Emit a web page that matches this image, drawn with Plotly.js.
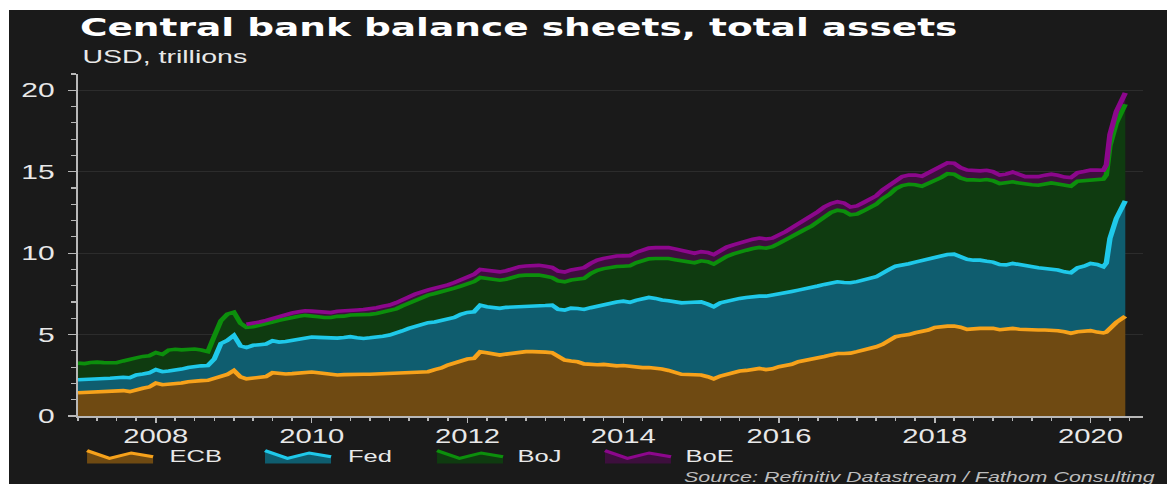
<!DOCTYPE html>
<html><head><meta charset="utf-8">
<script src="https://cdn.plot.ly/plotly-3.0.1.min.js"></script>
<style>
html,body{margin:0;padding:0;background:#ffffff;width:1167px;height:484px;overflow:hidden;}
#wrap{position:absolute;left:9px;top:10px;width:1158px;height:474px;background:#1a1a1a;overflow:hidden;}
#chart{position:absolute;left:0;top:0;width:772px;height:474px;transform:scaleX(1.5);transform-origin:0 0;}
</style></head><body><div id="wrap"><div id="chart"></div></div>
<script>
const dates = [
'2007-01','2007-02','2007-03','2007-04','2007-05','2007-06','2007-07','2007-08','2007-09','2007-10','2007-11','2007-12',
'2008-01','2008-02','2008-03','2008-04','2008-05','2008-06','2008-07','2008-08','2008-09','2008-10','2008-11','2008-12',
'2009-01','2009-02','2009-03','2009-04','2009-05','2009-06','2009-07','2009-08','2009-09','2009-10','2009-11','2009-12',
'2010-01','2010-02','2010-03','2010-04','2010-05','2010-06','2010-07','2010-08','2010-09','2010-10','2010-11','2010-12',
'2011-01','2011-02','2011-03','2011-04','2011-05','2011-06','2011-07','2011-08','2011-09','2011-10','2011-11','2011-12',
'2012-01','2012-02','2012-03','2012-04','2012-05','2012-06','2012-07','2012-08','2012-09','2012-10','2012-11','2012-12',
'2013-01','2013-02','2013-03','2013-04','2013-05','2013-06','2013-07','2013-08','2013-09','2013-10','2013-11','2013-12',
'2014-01','2014-02','2014-03','2014-04','2014-05','2014-06','2014-07','2014-08','2014-09','2014-10','2014-11','2014-12',
'2015-01','2015-02','2015-03','2015-04','2015-05','2015-06','2015-07','2015-08','2015-09','2015-10','2015-11','2015-12',
'2016-01','2016-02','2016-03','2016-04','2016-05','2016-06','2016-07','2016-08','2016-09','2016-10','2016-11','2016-12',
'2017-01','2017-02','2017-03','2017-04','2017-05','2017-06','2017-07','2017-08','2017-09','2017-10','2017-11','2017-12',
'2018-01','2018-02','2018-03','2018-04','2018-05','2018-06','2018-07','2018-08','2018-09','2018-10','2018-11','2018-12',
'2019-01','2019-02','2019-03','2019-04','2019-05','2019-06','2019-07','2019-08','2019-09','2019-10','2019-11','2019-12',
'2020-01-01','2020-02-01','2020-03-01','2020-03-15','2020-04-01','2020-05-01','2020-06-12'];

const ecb = [
1.43,1.45,1.47,1.49,1.51,1.53,1.55,1.56,1.50,1.62,1.70,1.78,
2.02,1.92,1.95,1.98,2.03,2.10,2.15,2.17,2.19,2.30,2.42,2.55,
2.80,2.40,2.28,2.33,2.38,2.42,2.66,2.60,2.58,2.60,2.63,2.66,
2.70,2.65,2.60,2.56,2.52,2.54,2.56,2.56,2.56,2.56,2.58,2.60,
2.62,2.64,2.66,2.68,2.69,2.70,2.72,2.85,2.95,3.13,3.27,3.40,
3.50,3.54,3.95,3.89,3.80,3.74,3.80,3.85,3.92,3.95,3.95,3.95,
3.92,3.89,3.70,3.44,3.38,3.33,3.20,3.15,3.15,3.17,3.10,3.08,
3.10,3.05,3.00,2.97,2.98,2.95,2.88,2.80,2.70,2.56,2.55,2.53,
2.52,2.41,2.28,2.45,2.55,2.65,2.76,2.80,2.86,2.92,2.85,2.90,
3.03,3.10,3.18,3.33,3.40,3.48,3.54,3.65,3.75,3.84,3.84,3.86,
3.95,4.05,4.15,4.25,4.40,4.66,4.87,4.95,5.00,5.11,5.18,5.28,
5.44,5.50,5.52,5.52,5.45,5.32,5.36,5.38,5.38,5.38,5.30,5.33,
5.38,5.33,5.30,5.28,5.28,5.28,5.28,5.24,5.17,5.08,5.17,5.20,
5.24,5.15,5.10,5.15,5.40,5.75,6.13];

const fed = [
0.80,0.79,0.79,0.78,0.79,0.79,0.80,0.82,0.85,0.90,0.88,0.87,
0.83,0.80,0.81,0.82,0.85,0.88,0.90,0.91,0.91,1.20,2.03,2.09,
2.15,1.90,1.92,2.01,2.00,2.00,1.96,1.94,2.00,2.04,2.07,2.12,
2.15,2.18,2.20,2.24,2.26,2.28,2.31,2.24,2.20,2.24,2.25,2.30,
2.35,2.44,2.56,2.70,2.81,2.92,3.01,2.92,2.90,2.80,2.78,2.85,
2.86,2.86,2.86,2.82,2.84,2.87,2.87,2.83,2.78,2.77,2.79,2.80,
2.86,2.92,2.85,3.06,3.24,3.27,3.34,3.50,3.60,3.64,3.80,3.92,
3.95,3.93,4.10,4.23,4.30,4.27,4.24,4.28,4.30,4.39,4.42,4.47,
4.49,4.46,4.43,4.50,4.50,4.50,4.46,4.48,4.47,4.44,4.51,4.52,
4.45,4.46,4.47,4.40,4.40,4.42,4.44,4.43,4.43,4.40,4.36,4.32,
4.30,4.33,4.30,4.30,4.40,4.34,4.33,4.31,4.35,4.34,4.37,4.37,
4.31,4.38,4.40,4.42,4.35,4.30,4.21,4.19,4.12,4.07,4.00,3.95,
3.99,3.97,3.90,3.87,3.82,3.78,3.74,3.72,3.68,3.72,3.93,4.00,
4.13,4.15,4.06,4.25,5.50,6.38,7.08];

const boj = [
1.02,0.98,1.02,1.04,0.98,0.94,0.92,1.00,1.10,1.05,1.08,1.05,
1.05,1.06,1.29,1.30,1.18,1.10,1.06,0.97,0.85,1.40,1.40,1.61,
1.43,1.40,1.25,1.14,1.18,1.23,1.15,1.34,1.40,1.41,1.42,1.40,
1.31,1.27,1.25,1.25,1.34,1.31,1.33,1.40,1.46,1.44,1.47,1.48,
1.47,1.50,1.53,1.53,1.60,1.66,1.69,1.75,1.77,1.80,1.80,1.73,
1.74,1.85,1.70,1.74,1.74,1.73,1.73,1.82,1.92,1.93,1.91,1.90,
1.80,1.69,1.75,1.74,1.73,1.80,1.91,2.10,2.20,2.24,2.22,2.18,
2.15,2.24,2.30,2.35,2.37,2.45,2.55,2.59,2.60,2.58,2.48,2.41,
2.52,2.60,2.62,2.65,2.75,2.80,2.86,2.90,2.95,2.99,2.94,2.98,
3.12,3.24,3.35,3.48,3.65,3.75,3.94,4.17,4.32,4.40,4.38,4.17,
4.15,4.22,4.35,4.45,4.55,4.60,4.75,4.89,4.88,4.75,4.56,4.63,
4.70,4.77,4.96,4.91,4.82,4.88,4.93,4.91,5.02,5.00,4.97,5.04,
5.01,5.00,5.03,5.05,5.07,5.19,5.29,5.29,5.30,5.31,5.32,5.25,
5.13,5.22,5.39,5.40,5.70,5.87,5.93];

// Bank of England series starts in March 2009
const boeStartIndex = 26;
const boeDates = dates.slice(boeStartIndex);
const boe = [
0.18,0.20,0.21,0.22,0.22,0.24,0.26,0.27,0.28,0.28,
0.28,0.29,0.30,0.30,0.31,0.31,0.30,0.31,0.32,0.34,0.35,0.36,
0.37,0.38,0.40,0.40,0.38,0.35,0.32,0.33,0.32,0.32,0.35,0.40,
0.42,0.45,0.49,0.50,0.50,0.51,0.52,0.53,0.55,0.56,0.58,0.60,
0.61,0.62,0.60,0.60,0.62,0.65,0.66,0.62,0.62,0.63,0.64,0.64,
0.63,0.62,0.64,0.65,0.66,0.67,0.68,0.68,0.66,0.65,0.62,0.58,
0.56,0.57,0.58,0.58,0.57,0.56,0.55,0.56,0.58,0.58,0.57,0.52,
0.50,0.52,0.56,0.60,0.61,0.62,0.62,0.60,0.55,0.52,0.50,0.48,
0.50,0.51,0.51,0.52,0.53,0.55,0.53,0.55,0.57,0.59,0.61,0.64,
0.66,0.68,0.67,0.67,0.64,0.60,0.58,0.57,0.57,0.55,0.52,0.53,
0.60,0.55,0.47,0.50,0.53,0.54,0.54,0.53,0.52,0.53,0.52,0.56,
0.60,0.58,0.54,0.62,0.68,0.70,0.70];

const seriesNames = ['ECB','Fed','BoJ','BoE'];
const lineColors = ['#f7a21b','#1fc9ea','#0c8f0c','#8c078c'];
const fillColors = ['#6f4a12','#0f5d6f','#0f3b10','#3d0f3d'];
const xTickStart = '2008-01-01';
const xRange = ['2007-01-01','2020-09-03'];
const yRange = [0, 21];

const xs = [dates, dates, dates, boeDates];
const ys = [ecb, fed, boj, boe];
const traces = seriesNames.map((n, i) => ({
  type: 'scatter', mode: 'lines', name: n, x: xs[i], y: ys[i],
  stackgroup: 'cb',
  line: {color: lineColors[i], width: i === 3 ? 0 : 3.6, shape: 'linear'},
  fillcolor: fillColors[i], hoverinfo: 'skip'
}));
// BoE outline only where the BoE series exists (top of the stack)
const boeTop = boe.map((v, k) => {
  const j = k + boeStartIndex;
  return ecb[j] + fed[j] + boj[j] + v;
});
traces.push({type: 'scatter', mode: 'lines', name: 'BoE', x: boeDates, y: boeTop,
  line: {color: lineColors[3], width: 3.6}, hoverinfo: 'skip', showlegend: false});

// custom legend icons (small area-chart glyphs) + labels
const legX = [0.0085, 0.1756, 0.3371, 0.4948];
const legTextX = [0.0836, 0.2507, 0.4103, 0.568];
const iconW = 0.062, iconTop = -0.0994, iconH = 0.0395;
const iconPts = [[0,0.05],[0.34,0.62],[0.67,0.22],[1,0.5]];
const shapes = [];
const annotations = [];
legX.forEach((x0, i) => {
  const pts = iconPts.map(p => [(x0 + p[0]*iconW).toFixed(5), (iconTop - p[1]*iconH).toFixed(5)]);
  const linePath = 'M' + pts.map(p => p[0] + ',' + p[1]).join(' L');
  const fillPath = linePath + ' L' + (x0+iconW).toFixed(5) + ',' + (iconTop-iconH).toFixed(5) +
                   ' L' + x0.toFixed(5) + ',' + (iconTop-iconH).toFixed(5) + ' Z';
  shapes.push({type:'path', xref:'paper', yref:'paper', path: fillPath, fillcolor: fillColors[i], line:{width:0}, layer:'above'});
  shapes.push({type:'path', xref:'paper', yref:'paper', path: linePath, fillcolor:'rgba(0,0,0,0)', line:{color: lineColors[i], width:3}, layer:'above'});
  annotations.push({xref:'paper', yref:'paper', x: legTextX[i], y: -0.1529, xanchor:'left', yanchor:'bottom',
    text: seriesNames[i], showarrow:false, font:{family:'Liberation Sans, Arial, sans-serif', size:17, color:'#e8e8e8'}});
});
annotations.push({xref:'paper', yref:'paper', x: 0.0018, y: 1.0526, xanchor:'left', yanchor:'middle',
  text:'USD, trillions', showarrow:false, font:{family:'Liberation Sans, Arial, sans-serif', size:19, color:'#e8e8e8'}});
annotations.push({xref:'paper', yref:'paper', x: 1.014, y: -0.1485, xanchor:'right', yanchor:'top',
  text:'Source: Refinitiv Datastream / Fathom Consulting', showarrow:false,
  font:{family:'Liberation Sans, Arial, sans-serif', size:14.3, color:'#bdbdbd', style:'italic'}});

const axisGrey = '#b8b8b8';
const layout = {
  width: 772, height: 474,
  paper_bgcolor: '#1a1a1a', plot_bgcolor: '#1a1a1a',
  margin: {l: 46, r: 16, t: 64, b: 68, pad: 0},
  showlegend: false,
  font: {family: 'Liberation Sans, Arial, sans-serif', color: '#e8e8e8'},
  title: {text: 'Central bank balance sheets, total assets',
    font: {family: 'DejaVu Sans, sans-serif', size: 25, color: '#ffffff', weight: 'bold'},
    xref: 'container', yref: 'container', x: 47.3/772, xanchor: 'left', y: 1 - 17/474, yanchor: 'middle'},
  xaxis: {type: 'date', range: xRange, showgrid: false, zeroline: false,
    showline: true, linecolor: axisGrey, linewidth: 1.5,
    ticks: 'outside', ticklen: 5, tickwidth: 1, tickcolor: axisGrey,
    dtick: 'M24', tick0: xTickStart, tickformat: '%Y',
    tickfont: {size: 19.5, color: '#e8e8e8'}, ticklabelstandoff: -3,
    minor: {dtick: 'M3', tick0: '2007-01-01', ticks: 'outside', ticklen: 3, tickwidth: 1, tickcolor: axisGrey, showgrid: false}},
  yaxis: {range: yRange, dtick: 5, tick0: 0, zeroline: false,
    showgrid: true, gridcolor: '#2c2c2c', gridwidth: 1,
    showline: true, linecolor: axisGrey, linewidth: 1.3,
    ticks: 'outside', ticklen: 5.3, tickwidth: 1.2, tickcolor: axisGrey,
    tickfont: {size: 20, color: '#e8e8e8'}, ticklabelstandoff: 5,
    minor: {dtick: 1, ticks: 'outside', ticklen: 3.3, tickwidth: 1.2, tickcolor: axisGrey, showgrid: false}},
  shapes: shapes,
  annotations: annotations
};
Plotly.newPlot('chart', traces, layout, {staticPlot: true, displayModeBar: false});
</script></body></html>
